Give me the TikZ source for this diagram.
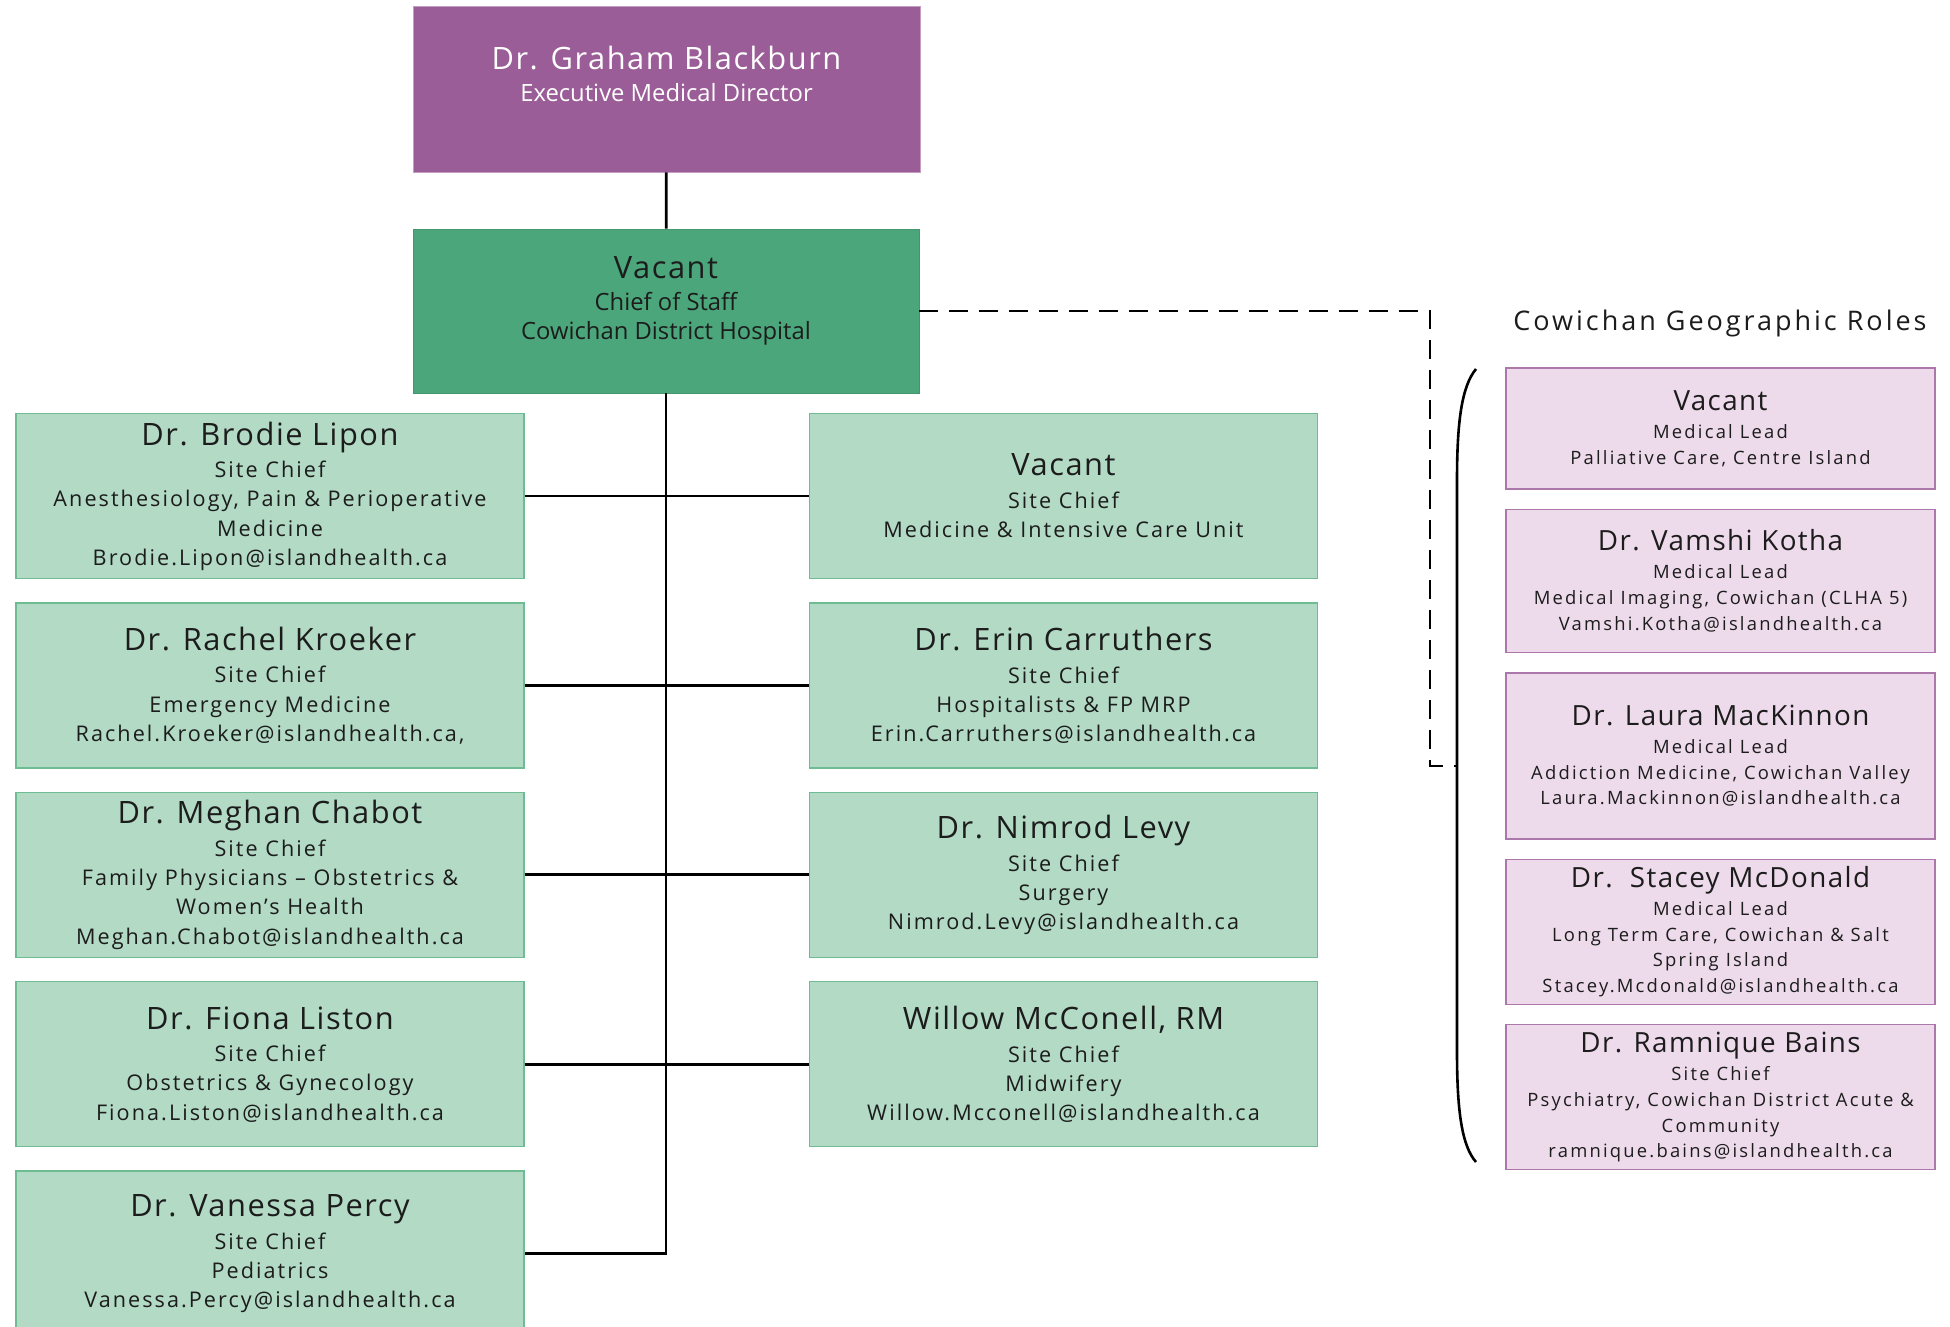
\documentclass[tikz,border=0pt]{standalone}
\usepackage{fontspec}
\setmainfont{Open Sans}
\setsansfont{Open Sans}
\newfontfamily\namefont{Open Sans}[LetterSpace=5]
\newfontfamily\subfont{Open Sans}[LetterSpace=9.5]
\newfontfamily\leadfont{Open Sans}[LetterSpace=12]
\newfontfamily\titlefont{Open Sans}[LetterSpace=11]
\definecolor{ihpurple}{RGB}{155,93,151}
\definecolor{ihgreen}{RGB}{75,167,123}
\definecolor{ihmint}{RGB}{178,218,197}
\definecolor{ihmintline}{RGB}{110,188,148}
\definecolor{ihpink}{RGB}{237,218,235}
\definecolor{ihpinkline}{RGB}{172,120,172}
\definecolor{ihtext}{RGB}{28,28,28}
\tikzset{every picture/.style={/utils/exec={\sffamily}}}
\usetikzlibrary{positioning}
\newcommand{\bigname}[1]{{\namefont\fontsize{15.4}{18}\selectfont #1}}
\newcommand{\leadname}[1]{{\namefont\fontsize{13.9}{15}\selectfont #1}}

\begin{document}
\begin{tikzpicture}[x=0.5pt, y=-0.5pt, node distance=11.5pt,
    box/.style={rectangle, inner sep=0pt, align=center, text=ihtext},
    execbox/.style={box, fill=ihpurple, draw=ihpurple!60, minimum width=253.5pt, minimum height=83pt},
    chiefbox/.style={box, fill=ihgreen, draw=ihgreen!90!black, minimum width=253pt, minimum height=82pt},
    sitebox/.style={box, fill=ihmint, draw=ihmintline, line width=0.7pt, minimum width=254pt, minimum height=82.5pt,
      font=\subfont\fontsize{10.8}{14.6}\selectfont},
    leadbox/.style={box, fill=ihpink, draw=ihpinkline, line width=0.7pt, minimum width=214.5pt,
      font=\leadfont\fontsize{9.2}{12.9}\selectfont},
    boxtext/.style={box, font=\fontsize{11.9}{14.6}\selectfont},
    link/.style={line width=1.4pt},
    dotlink/.style={line width=1.3pt, dash pattern=on 9.5pt off 5.5pt},
  ]
  \useasboundingbox (0,0) rectangle (1950,1327);

  % executive and chief of staff
  \node[execbox] (exec) at (666.5,89) {};
  \node[boxtext, text=white] (exectxt) at (666.5,74)
    {\bigname{Dr. Graham Blackburn}\\[1.4pt] Executive Medical Director};
  \node[chiefbox] (chief) at (666,311) {};
  \node[boxtext] (chieftxt) at (666,301)
    {\bigname{Vacant}\\[1.4pt] Chief of Staff\\ Cowichan District Hospital};

  % site chiefs, left column
  \node[sitebox] (l1) at (270,496)
    {\bigname{Dr. Brodie Lipon}\\[1.7pt] Site Chief\\ Anesthesiology, Pain \& Perioperative\\ Medicine\\ Brodie.Lipon@islandhealth.ca};
  \node[sitebox, below=of l1] (l2)
    {\bigname{Dr. Rachel Kroeker}\\[1.7pt] Site Chief\\ Emergency Medicine\\ Rachel.Kroeker@islandhealth.ca,};
  \node[sitebox, below=of l2] (l3)
    {\bigname{Dr. Meghan Chabot}\\[1.7pt] Site Chief\\ Family Physicians – Obstetrics \&\\ Women’s Health\\ Meghan.Chabot@islandhealth.ca};
  \node[sitebox, below=of l3] (l4)
    {\bigname{Dr. Fiona Liston}\\[1.7pt] Site Chief\\ Obstetrics \& Gynecology\\ Fiona.Liston@islandhealth.ca};
  \node[sitebox, below=of l4] (l5)
    {\bigname{Dr. Vanessa Percy}\\[1.7pt] Site Chief\\ Pediatrics\\ Vanessa.Percy@islandhealth.ca};

  % site chiefs, right column
  \node[sitebox] (r1) at (1063.5,496)
    {\bigname{Vacant}\\[1.7pt] Site Chief\\ Medicine \& Intensive Care Unit};
  \node[sitebox, below=of r1] (r2)
    {\bigname{Dr. Erin Carruthers}\\[1.7pt] Site Chief\\ Hospitalists \& FP MRP\\ Erin.Carruthers@islandhealth.ca};
  \node[sitebox, below=of r2] (r3)
    {\bigname{Dr. Nimrod Levy}\\[1.7pt] Site Chief\\ Surgery\\ Nimrod.Levy@islandhealth.ca};
  \node[sitebox, below=of r3] (r4)
    {\bigname{Willow McConell, RM}\\[1.7pt] Site Chief\\ Midwifery\\ Willow.Mcconell@islandhealth.ca};

  % geographic roles
  \node[box, anchor=base, font=\titlefont\fontsize{13.5}{16}\selectfont] (geotitle) at (1720,330)
    {Cowichan Geographic Roles};
  \node[leadbox, minimum height=60.5pt] (p1) at (1720.5,428.5)
    {\leadname{Vacant}\\[1.1pt] Medical Lead\\ Palliative Care, Centre Island};
  \node[leadbox, minimum height=71.5pt, below=9.5pt of p1] (p2)
    {\leadname{Dr. Vamshi Kotha}\\[1.1pt] Medical Lead\\ Medical Imaging, Cowichan (CLHA 5)\\ Vamshi.Kotha@islandhealth.ca};
  \node[leadbox, minimum height=83pt, below=9.5pt of p2] (p3)
    {\leadname{Dr. Laura MacKinnon}\\[1.1pt] Medical Lead\\ Addiction Medicine, Cowichan Valley\\ Laura.Mackinnon@islandhealth.ca};
  \node[leadbox, minimum height=72.5pt, below=9.5pt of p3] (p4)
    {\leadname{Dr.\ \ Stacey McDonald}\\[1.1pt] Medical Lead\\ Long Term Care, Cowichan \& Salt\\ Spring Island\\ Stacey.Mcdonald@islandhealth.ca};
  \node[leadbox, minimum height=72.5pt, below=9.5pt of p4] (p5)
    {\leadname{Dr. Ramnique Bains}\\[1.1pt] Site Chief\\ Psychiatry, Cowichan District Acute \&\\ Community\\ ramnique.bains@islandhealth.ca};

  % connectors
  \draw[link] (exec) -- (chief);
  \draw[link] (chief.south) -- (chief.south |- l5.east) -- (l5.east);
  \foreach \i in {1,...,4} {
    \draw[link] (l\i.east) -- (r\i.west);
  }

  \coordinate (tip) at (1457,766);
  \coordinate (bend) at (1430,766);
  \draw[dotlink] (chief.east) -| (bend) -- (tip);
  \draw[line width=1.3pt] (1476,369) .. controls (1462,386) and (1457,420) .. (1457,480)
    -- (1457,1052) .. controls (1457,1112) and (1462,1146) .. (1476,1162);
\end{tikzpicture}
\end{document}
